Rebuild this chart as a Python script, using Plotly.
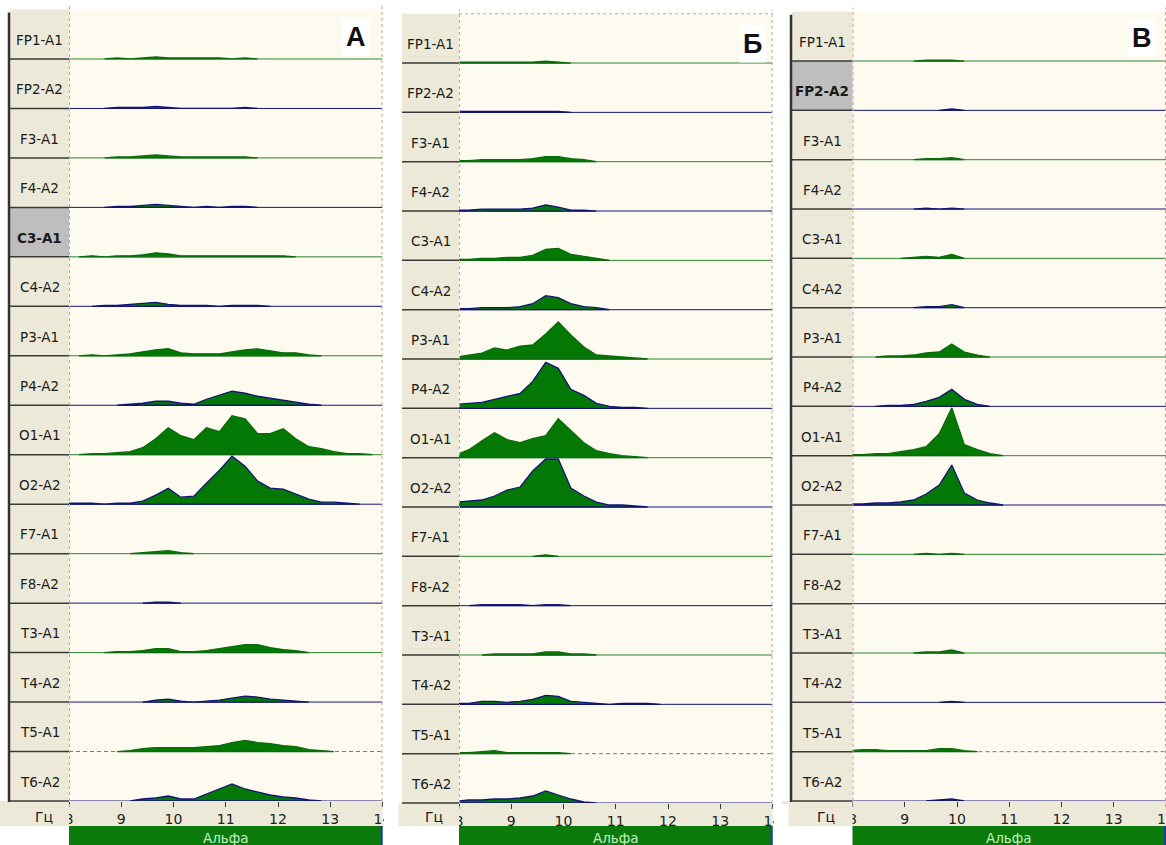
import plotly.graph_objects as go

W, H = 1166, 845

# ---------------- data ----------------
FREQ = [7.95, 8.19, 8.44, 8.68, 8.92, 9.17, 9.41, 9.66, 9.90, 10.14, 10.39, 10.63, 10.88,
        11.12, 11.37, 11.61, 11.85, 12.10, 12.34, 12.59, 12.83, 13.07, 13.32, 13.56, 13.81, 14.05]

CHANNELS = ["FP1-A1", "FP2-A2", "F3-A1", "F4-A2", "C3-A1", "C4-A2", "P3-A1", "P4-A2",
            "O1-A1", "O2-A2", "F7-A1", "F8-A2", "T3-A1", "T4-A2", "T5-A1", "T6-A2"]

TICKS = [8, 9, 10, 11, 12, 13, 14]
PANEL_TITLES = ["А", "Б", "В"]
HIGHLIGHTED = ["C3-A1", None, "FP2-A2"]
UNIT_LABEL = "Гц"
BAND_LABEL = "Альфа"

# spectral amplitude (px above baseline) per channel, panel А
VALUES_A = [
    [0,0,0,0,1,0,1,2,1,1,1,1,1,0,1,0,0,0,0,0,0,0,0,0,0,0],
    [0,0,0,0,1,1,1,2,1,0,0,0,0,0,1,0,0,0,0,0,0,0,0,0,0,0],
    [0,0,0,0,1,1,2,3,2,1,1,1,1,1,1,0,0,0,0,0,0,0,0,0,0,0],
    [0,0,0,0,1,1,2,3,2,1,0,1,0,1,1,0,0,0,0,0,0,0,0,0,0,0],
    [0,0,1,0,1,1,2,4,3,1,1,1,1,1,1,1,1,1,0,0,0,0,0,0,0,0],
    [0,0,0,1,1,2,3,4,2,1,1,1,0,1,1,1,0,0,0,0,0,0,0,0,0,0],
    [0,0,1,0,1,2,4,6,7,3,2,2,2,4,6,7,5,3,3,1,0,0,0,0,0,0],
    [0,0,0,0,0,1,2,4,4,2,1,6,10,14,12,9,7,5,3,1,0,0,0,0,0,0],
    [0,0,1,1,2,3,7,16,27,19,15,27,23,39,36,21,21,26,16,8,6,3,1,1,0,0],
    [1,1,1,0,1,1,3,9,16,7,8,21,34,48,38,23,16,15,10,5,2,2,1,0,0,0],
    [0,0,0,0,0,0,1,2,3,1,0,0,0,0,0,0,0,0,0,0,0,0,0,0,0,0],
    [0,0,0,0,0,0,0,1,1,0,0,0,0,0,0,0,0,0,0,0,0,0,0,0,0,0],
    [0,0,0,0,1,1,2,4,4,1,1,2,4,6,8,8,5,3,2,0,0,0,0,0,0,0],
    [0,0,0,0,0,0,0,2,3,1,0,1,2,4,6,5,3,2,1,0,0,0,0,0,0,0],
    [0,0,0,0,0,1,3,4,4,4,4,5,6,9,11,9,8,6,5,2,1,0,0,0,0,0],
    [0,0,0,0,0,0,2,3,5,2,2,7,12,17,12,9,6,4,3,1,0,0,0,0,0,0],
]

# panel Б
VALUES_B = [
    [1,1,1,1,1,1,1,2,1,0,0,0,0,0,0,0,0,0,0,0,0,0,0,0,0,0],
    [1,1,1,1,1,1,1,1,1,0,0,0,0,0,0,0,0,0,0,0,0,0,0,0,0,0],
    [1,1,2,2,2,2,3,5,5,3,2,0,0,0,0,0,0,0,0,0,0,0,0,0,0,0],
    [1,1,2,2,2,2,3,6,4,1,1,0,0,0,0,0,0,0,0,0,0,0,0,0,0,0],
    [1,1,2,2,3,3,5,11,12,6,4,2,0,0,0,0,0,0,0,0,0,0,0,0,0,0],
    [1,1,2,2,2,3,6,14,12,6,3,2,0,0,0,0,0,0,0,0,0,0,0,0,0,0],
    [2,4,6,11,9,13,14,25,37,24,12,4,3,2,1,0,0,0,0,0,0,0,0,0,0,0],
    [4,5,6,9,12,15,27,46,40,19,13,5,2,1,1,0,0,0,0,0,0,0,0,0,0,0],
    [3,8,17,25,18,15,19,22,39,27,15,7,4,2,1,0,0,0,0,0,0,0,0,0,0,0],
    [5,6,7,11,17,20,36,48,48,19,11,5,2,2,1,0,0,0,0,0,0,0,0,0,0,0],
    [0,0,0,0,0,0,0,1.5,0,0,0,0,0,0,0,0,0,0,0,0,0,0,0,0,0,0],
    [0,0,1,1,1,1,0,1,1,0,0,0,0,0,0,0,0,0,0,0,0,0,0,0,0,0],
    [0,0,0,1,1,1,1,3,3,1,1,0,0,0,0,0,0,0,0,0,0,0,0,0,0,0],
    [1,1,3,3,2,3,5,9,8,3,2,1,0,1,1,1,0,0,0,0,0,0,0,0,0,0],
    [1,1,2,3,1,1,1,1,1,0,0,0,0,0,0,0,0,0,0,0,0,0,0,0,0,0],
    [2,3,3,4,4,5,7,12,8,4,1,0,0,0,0,0,0,0,0,0,0,0,0,0,0,0],
]

# panel В
VALUES_V = [
    [0,0,0,0,0,0,1,1,1,0,0,0,0,0,0,0,0,0,0,0,0,0,0,0,0,0],
    [0,0,0,0,0,0,0,0,1.5,0,0,0,0,0,0,0,0,0,0,0,0,0,0,0,0,0],
    [0,0,0,0,0,0,1,1,2,0,0,0,0,0,0,0,0,0,0,0,0,0,0,0,0,0],
    [0,0,0,0,0,0,1,0,1,0,0,0,0,0,0,0,0,0,0,0,0,0,0,0,0,0],
    [0,0,0,0,0,1,2,1,4,0,0,0,0,0,0,0,0,0,0,0,0,0,0,0,0,0],
    [0,0,0,0,0,0,1,1,3,0,0,0,0,0,0,0,0,0,0,0,0,0,0,0,0,0],
    [0,0,0,1,1,2,4,5,13,5,2,0,0,0,0,0,0,0,0,0,0,0,0,0,0,0],
    [0,0,0,1,1,2,5,9,17,7,2,0,0,0,0,0,0,0,0,0,0,0,0,0,0,0],
    [1,1,2,2,4,6,9,22,48,11,6,2,0,0,0,0,0,0,0,0,0,0,0,0,0,0],
    [1,1,2,2,3,5,11,20,40,12,5,2,0,0,0,0,0,0,0,0,0,0,0,0,0,0],
    [0,0,0,0,0,0,1,0,1,0,0,0,0,0,0,0,0,0,0,0,0,0,0,0,0,0],
    [0,0,0,0,0,0,0,0,0,0,0,0,0,0,0,0,0,0,0,0,0,0,0,0,0,0],
    [0,0,0,0,0,0,1,1,3,0,0,0,0,0,0,0,0,0,0,0,0,0,0,0,0,0],
    [0,0,0,0,0,0,0,0,1,0,0,0,0,0,0,0,0,0,0,0,0,0,0,0,0,0],
    [1,2,2,1,1,1,1,3,3,1,0,0,0,0,0,0,0,0,0,0,0,0,0,0,0,0],
    [0,0,0,0,0,0,0,1,2,0,0,0,0,0,0,0,0,0,0,0,0,0,0,0,0,0],
]

# ---------------- layout geometry (pixels) ----------------
PANELS = [
    dict(values=VALUES_A, lab_l=10, plot_l=69, plot_r=382.5, top=9.5, bottom=801,
         border=True, title_xy=(356, 37), topdash=False),
    dict(values=VALUES_B, lab_l=402, plot_l=459, plot_r=772.5, top=13.7, bottom=803,
         border=False, title_xy=(752, 44), topdash=True),
    dict(values=VALUES_V, lab_l=792, plot_l=852.5, plot_r=1166, top=11.7, bottom=801,
         border=True, title_xy=(1142, 38), topdash=False),
]

FONT = "DejaVu Sans"
CREAM = "#FDFAF0"
BEIGE = "#ECE9D8"
HILITE = "#BEBEBE"
FILL_GREEN = "#047804"
LINE_GREEN = "#0B6A0B"
BASE_GREEN = "#2F842F"
NAVY = "#141478"
BAR_GREEN = "#0A7A0A"


def px(x):
    return x / W


def py(y):
    return 1 - y / H


fig = go.Figure()
shapes = []
annotations = []

for i, p in enumerate(PANELS):
    s = "" if i == 0 else str(i + 1)
    xa, ya = "x" + s, "y" + s
    span = p["bottom"] - p["top"]
    pitch = span / 16.0

    fig.update_layout(**{
        "xaxis" + s: dict(domain=[px(p["plot_l"]), px(p["plot_r"])], range=[8, 14],
                          anchor=ya, tickvals=TICKS, ticktext=[str(t) for t in TICKS],
                          ticks="outside", ticklen=5, tickwidth=1, tickcolor="#333333",
                          tickfont=dict(family=FONT, size=14, color="#222222"),
                          automargin=False, ticklabeloverflow="allow",
                          showgrid=False, zeroline=False, showline=False, fixedrange=True),
        "yaxis" + s: dict(domain=[py(p["bottom"]), py(p["top"])], range=[0, span],
                          anchor=xa, visible=False, automargin=False, fixedrange=True),
    })

    for k, ch in enumerate(CHANNELS):
        base = (15 - k) * pitch
        is_a2 = ch.endswith("A2")
        vals = p["values"][k]
        # baseline
        if ch == "T5-A1":
            bl = dict(color="#7A7A6A", width=1, dash="4px,3px")
        else:
            bl = dict(color=NAVY if is_a2 else BASE_GREEN, width=1)
        fig.add_trace(go.Scatter(x=[8, 14], y=[base, base], mode="lines", line=bl,
                                 xaxis=xa, yaxis=ya, hoverinfo="skip", showlegend=False))
        nz = [j for j, v in enumerate(vals) if v > 0]
        if nz:
            i0 = max(nz[0] - 1, 0)
            i1 = min(nz[-1] + 1, len(FREQ) - 1)
            xs = FREQ[i0:i1 + 1]
            ys = [base + v for v in vals[i0:i1 + 1]]
            fig.add_trace(go.Scatter(
                x=xs + [xs[-1], xs[0]], y=ys + [base, base], mode="lines",
                fill="toself", fillcolor=FILL_GREEN,
                line=dict(color=NAVY if is_a2 else LINE_GREEN, width=1.3),
                xaxis=xa, yaxis=ya, hoverinfo="skip", showlegend=False))

        # label cell
        y_top = p["top"] + k * pitch
        y_bot = p["top"] + (k + 1) * pitch
        hl = HIGHLIGHTED[i] == ch
        shapes.append(dict(type="rect", xref="paper", yref="paper",
                           x0=px(p["lab_l"]), x1=px(p["plot_l"]), y0=py(y_bot), y1=py(y_top),
                           fillcolor=HILITE if hl else BEIGE, line=dict(width=0), layer="below"))
        shapes.append(dict(type="line", xref="paper", yref="paper",
                           x0=px(p["lab_l"]), x1=px(p["plot_l"]), y0=py(y_bot), y1=py(y_bot),
                           line=dict(color="#3A3A3A", width=1.5)))
        annotations.append(dict(
            xref="paper", yref="paper", x=px((p["lab_l"] + p["plot_l"]) / 2),
            y=py((y_top + y_bot) / 2 + 5.5), text=f"<b>{ch}</b>" if hl else ch,
            showarrow=False, font=dict(family=FONT, size=13.5, color="#1A1A1A"),
            xanchor="center", yanchor="middle"))

    # axis row background
    shapes.append(dict(type="rect", xref="paper", yref="paper",
                       x0=px(p["lab_l"] - 10), x1=px(p["plot_r"]), y0=py(826), y1=py(p["bottom"]),
                       fillcolor=BEIGE, line=dict(width=0), layer="below"))
    # covers for clipped edge tick labels
    shapes.append(dict(type="rect", xref="paper", yref="paper",
                       x0=px(p["plot_l"] - 16), x1=px(p["plot_l"]), y0=py(826), y1=py(p["bottom"] + 1),
                       fillcolor=BEIGE, line=dict(width=0), layer="above"))
    if p["plot_r"] < W - 1:
        shapes.append(dict(type="rect", xref="paper", yref="paper",
                           x0=px(p["plot_r"] + 1.5), x1=px(p["plot_r"] + 16), y0=py(826),
                           y1=py(p["bottom"] + 1),
                           fillcolor="white", line=dict(width=0), layer="above"))
    # alpha band bar
    shapes.append(dict(type="rect", xref="paper", yref="paper",
                       x0=px(p["plot_l"]), x1=px(p["plot_r"]), y0=py(845), y1=py(826),
                       fillcolor=BAR_GREEN, line=dict(width=0), layer="above"))
    shapes.append(dict(type="line", xref="paper", yref="paper",
                       x0=px(p["plot_r"] - 1), x1=px(p["plot_r"] - 1), y0=py(845), y1=py(826),
                       line=dict(color="#1E3CA0", width=2), layer="above"))
    # dashed edges
    for xe in (p["plot_l"] + 0.5, p["plot_r"] - 0.5):
        shapes.append(dict(type="line", xref="paper", yref="paper",
                           x0=px(xe), x1=px(xe), y0=py(p["bottom"] + 6), y1=py(p["top"] - 4),
                           line=dict(color="#C9A0A0", width=1, dash="3px,3px"), layer="above"))
    if p["topdash"]:
        shapes.append(dict(type="line", xref="paper", yref="paper",
                           x0=px(p["plot_l"]), x1=px(p["plot_r"]), y0=py(p["top"]), y1=py(p["top"]),
                           line=dict(color="#C9A0A0", width=1, dash="3px,3px"), layer="above"))
    if p["border"]:
        shapes.append(dict(type="line", xref="paper", yref="paper",
                           x0=px(p["lab_l"] - 1), x1=px(p["lab_l"] - 1),
                           y0=py(p["bottom"] + 1), y1=py(p["top"] + 3),
                           line=dict(color="#333333", width=2.5)))

    annotations.append(dict(xref="paper", yref="paper", x=px((p["lab_l"] + p["plot_l"]) / 2 + 4),
                            y=py(817), text=UNIT_LABEL, showarrow=False,
                            xanchor="center", yanchor="middle",
                            font=dict(family=FONT, size=14, color="#1A1A1A")))
    annotations.append(dict(xref="paper", yref="paper", x=px((p["plot_l"] + p["plot_r"]) / 2),
                            y=py(837.5), text=BAND_LABEL, showarrow=False,
                            xanchor="center", yanchor="middle",
                            font=dict(family=FONT, size=13.5, color="#C4F2C4")))
    annotations.append(dict(xref="paper", yref="paper", x=px(p["title_xy"][0]), y=py(p["title_xy"][1]),
                            text=f"<b>{PANEL_TITLES[i]}</b>", showarrow=False, bgcolor="white",
                            borderpad=3, xanchor="center", yanchor="middle",
                            font=dict(family="Liberation Sans", size=27, color="#111111")))

fig.update_layout(width=W, height=H,
                  margin=dict(l=0, r=0, t=0, b=0, pad=0, autoexpand=False),
                  paper_bgcolor="white", plot_bgcolor=CREAM, showlegend=False,
                  shapes=shapes, annotations=annotations)

fig.write_html("out.html", config={"displayModeBar": False},
               post_script="document.body.style.margin='0';document.body.style.overflow='hidden';")
